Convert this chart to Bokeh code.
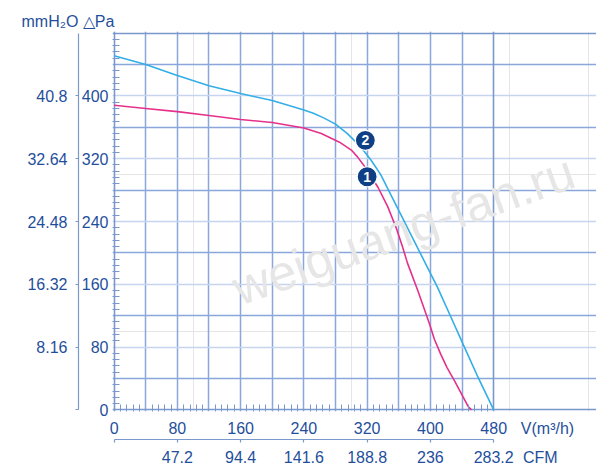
from bokeh.plotting import figure
from bokeh.models import Range1d, LinearAxis, FixedTicker, Grid, Label, ColumnDataSource
from bokeh.embed import file_html
from bokeh.resources import INLINE
from bokeh.core.properties import value

# ---- data ----
flow_1 = [0, 40, 80, 120, 160, 200, 240, 262, 285, 300, 308, 314, 321, 334, 346, 357, 365, 371,
          384, 399, 405, 413, 421, 430, 448, 452]
pressure_1 = [388, 384, 380, 375, 370, 366, 359, 352, 341, 331, 322, 314, 304, 283, 259, 231, 207, 187,
              152, 109, 90, 71, 54, 38, 4, 0]

flow_2 = [0, 40, 80, 120, 160, 200, 240, 252, 265, 280, 295, 312, 325, 337, 350, 362, 375, 390,
          409, 426, 443, 460, 480]
pressure_2 = [451, 440, 426, 413, 403, 394, 382, 378, 372, 364, 352, 335, 318, 300, 274, 250, 224, 194,
              156, 118, 80, 42, 0]

marker_flow = [320, 317.7]
marker_pressure = [297, 343.4]
marker_text = ["1", "2"]

pa_ticks = [0, 80, 160, 240, 320, 400]
mmh2o_ticks = [0, 80, 160, 240, 320, 400]
mmh2o_labels = ["", "8.16", "16.32", "24.48", "32.64", "40.8"]
flow_ticks = [0, 80, 160, 240, 320, 400, 480]
cfm_ticks = [80, 160, 240, 320, 400, 480]
cfm_labels = ["47.2", "94.4", "141.6", "188.8", "236", "283.2"]
grid_dark = [40, 120, 200, 280, 360, 440]
grid_light = [80, 160, 240, 320, 400]
grid_x = [40, 80, 120, 160, 200, 240, 280, 320, 360, 400, 440]
box_lines = [0, 480]
minor_values = [v for v in range(8, 480, 8) if v % 40 != 0]

FONT = "Liberation Sans"
TXT = "#1f4f9c"
LINE = "#7b98cc"
FS = "16px"

# unit-text positions (layout, not data)
V_UNIT_X = 548
CFM_UNIT_X = 539

p = figure(width=596, height=468, x_range=Range1d(-2, 610), y_range=Range1d(-2, 482),
           output_backend="svg", toolbar_location=None,
           x_axis_location=None, y_axis_location=None,
           min_border_left=112, min_border_right=0, min_border_top=31, min_border_bottom=55)
p.outline_line_color = None
p.background_fill_color = "white"
p.border_fill_color = "white"

# title used for the top-left unit texts
p.title.text = "mmH\u2082O  \u25b3Pa"
p.title.align = "left"
p.title.offset = -91
p.title.standoff = 3
p.title.text_font = FONT
p.title.text_font_size = FS
p.title.text_font_style = "normal"
p.title.text_color = TXT

# grids (bounded to the chart box)
p.add_layout(Grid(dimension=0, ticker=FixedTicker(ticks=grid_x), bounds=(0, 480),
                  grid_line_color="#8aa6da", grid_line_width=1.5))
p.add_layout(Grid(dimension=1, ticker=FixedTicker(ticks=grid_dark), bounds=(0, 480),
                  grid_line_color="#8aa6da", grid_line_width=1.5))
p.add_layout(Grid(dimension=1, ticker=FixedTicker(ticks=grid_light), bounds=(0, 480),
                  grid_line_color="#c6d4ef", grid_line_width=1.5))
p.add_layout(Grid(dimension=0, ticker=FixedTicker(ticks=box_lines), bounds=(0, 480),
                  grid_line_color=LINE, grid_line_width=1.6))
p.add_layout(Grid(dimension=1, ticker=FixedTicker(ticks=box_lines), bounds=(0, 480),
                  grid_line_color=LINE, grid_line_width=1.6))

def style(ax):
    ax.major_label_text_font = FONT
    ax.major_label_text_font_size = FS
    ax.major_label_text_color = TXT
    ax.major_tick_line_color = LINE
    ax.minor_tick_line_color = LINE
    ax.axis_line_color = LINE
    ax.axis_line_width = 1.2
    ax.major_tick_line_width = 1.2

# Pa axis (next to frame)
ax_pa = LinearAxis(ticker=FixedTicker(ticks=pa_ticks, minor_ticks=minor_values))
style(ax_pa)
ax_pa.axis_line_color = None
ax_pa.major_tick_in = 0
ax_pa.major_tick_out = 0
ax_pa.minor_tick_in = 7
ax_pa.minor_tick_out = 0
ax_pa.major_label_standoff = 4
p.add_layout(ax_pa, "left")

# mmH2O axis (outer)
ax_mm = LinearAxis(ticker=FixedTicker(ticks=mmh2o_ticks), bounds=(0, 480),
                   major_label_overrides={t: s for t, s in zip(mmh2o_ticks, mmh2o_labels)})
style(ax_mm)
ax_mm.major_tick_in = 0
ax_mm.major_tick_out = 3
ax_mm.minor_tick_line_color = None
ax_mm.major_label_standoff = 8
p.add_layout(ax_mm, "left")

# m3/h axis (next to frame), with the unit text as an extra label
ax_v = LinearAxis(ticker=FixedTicker(ticks=flow_ticks + [V_UNIT_X], minor_ticks=minor_values),
                  major_label_overrides={V_UNIT_X: "V(m\u00b3/h)"})
style(ax_v)
ax_v.axis_line_color = None
ax_v.major_tick_in = 0
ax_v.major_tick_out = 0
ax_v.minor_tick_in = 7
ax_v.minor_tick_out = 0
ax_v.major_label_standoff = 8
p.add_layout(ax_v, "below")

# CFM axis line with ticks (no labels)
ax_cfm_line = LinearAxis(ticker=FixedTicker(ticks=flow_ticks), bounds=(0, 480),
                         major_label_overrides={t: "" for t in flow_ticks})
style(ax_cfm_line)
ax_cfm_line.major_label_text_font_size = "1px"
ax_cfm_line.major_label_standoff = 0
ax_cfm_line.major_tick_in = 0
ax_cfm_line.major_tick_out = 3
ax_cfm_line.minor_tick_line_color = None
p.add_layout(ax_cfm_line, "below")

# CFM labels
ax_cfm = LinearAxis(ticker=FixedTicker(ticks=cfm_ticks + [CFM_UNIT_X]))
style(ax_cfm)
ax_cfm.major_label_overrides = {**{t: s for t, s in zip(cfm_ticks, cfm_labels)}, CFM_UNIT_X: "CFM"}
ax_cfm.axis_line_color = None
ax_cfm.major_tick_line_color = None
ax_cfm.minor_tick_line_color = None
ax_cfm.major_tick_in = 0
ax_cfm.major_tick_out = 0
ax_cfm.major_label_standoff = 6
p.add_layout(ax_cfm, "below")

# watermark
p.add_layout(Label(x=366, y=229, text="weiguang-fan.ru", angle=19.5, angle_units="deg",
                   text_align="center", text_baseline="middle", text_font=FONT,
                   text_font_size="50px", text_color="#e6e6e6"))

# curves
p.line(flow_2, pressure_2, line_color="#33aee6", line_width=1.6, line_join="round")
p.line(flow_1, pressure_1, line_color="#e5318b", line_width=1.6, line_join="round")

msrc = ColumnDataSource(dict(x=marker_flow, y=marker_pressure, t=marker_text))
p.scatter("x", "y", source=msrc, size=20, fill_color="#0f3f84", line_color="white", line_width=1.2)
p.text("x", "y", text="t", source=msrc, text_align="center", text_baseline="middle",
       text_color="white", text_font=value(FONT), text_font_style="bold", text_font_size="14px")

open("out.html", "w").write(file_html(p, INLINE))
